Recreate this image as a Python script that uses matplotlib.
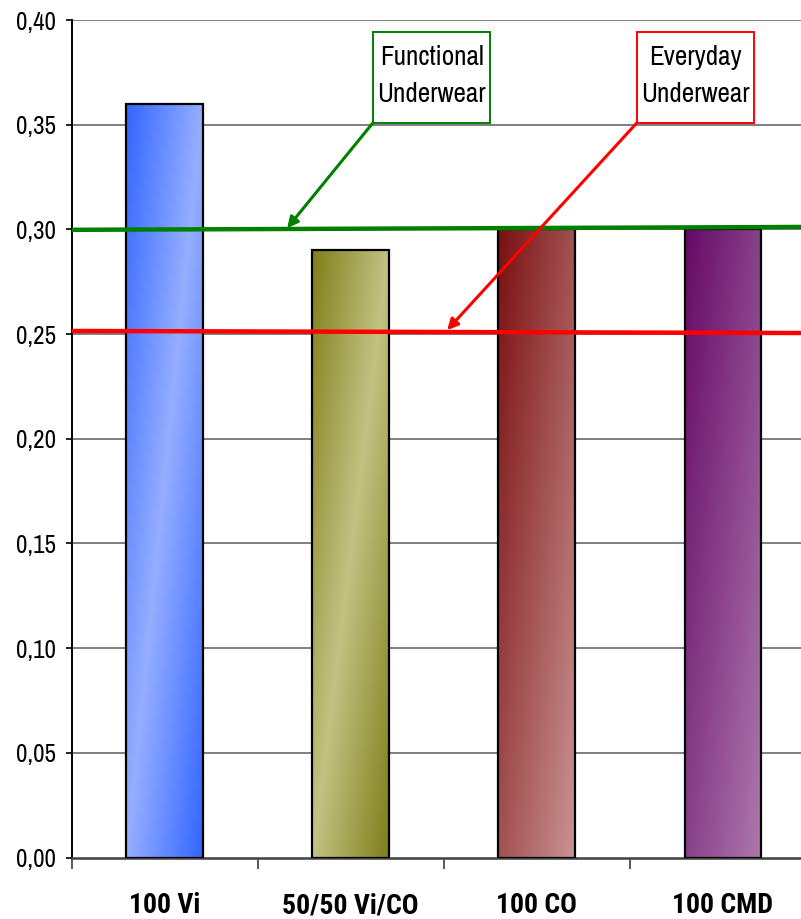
import numpy as np
import matplotlib
matplotlib.use("Agg")
import matplotlib.pyplot as plt
from matplotlib.colors import to_rgb
from matplotlib.patches import Rectangle

NARROW = ['Archivo Narrow', 'Liberation Sans', 'DejaVu Sans']
NARROW_BOLD = ['Roboto Condensed', 'Fira Sans Condensed', 'Liberation Sans', 'DejaVu Sans']
plt.rcParams['font.family'] = NARROW

# Bar data
categories = ["100 Vi", "50/50 Vi/CO", "100 CO", "100 CMD"]
values = [0.36, 0.29, 0.30, 0.30]
# (dark, light) colour pairs and gradient style for each bar
dark_colors = ["#3366ff", "#7f7f1a", "#7a0f10", "#650a66"]
light_colors = ["#95aeff", "#c2c283", "#c99393", "#ad78ad"]
gradient_kind = ["band", "band", "diag", "diag"]

# Reference lines (left end, right end)
functional_level = [0.2998, 0.3012]
everyday_level = [0.2515, 0.2505]

yticks = [0.00, 0.05, 0.10, 0.15, 0.20, 0.25, 0.30, 0.35, 0.40]
ytick_labels = ["0,00", "0,05", "0,10", "0,15", "0,20", "0,25", "0,30", "0,35", "0,40"]


def gradient_image(dark, light, kind, n=200):
    u = np.linspace(0, 1, 60)[None, :]
    v = np.linspace(1, 0, n)[:, None]   # top row first
    if kind == "band":
        t = np.abs(u - v)
    else:
        t = (1 - u + v) / 2
    t = np.clip(t, 0, 1)
    d = np.array(to_rgb(dark))
    l = np.array(to_rgb(light))
    return l + (d - l) * t[..., None]


fig = plt.figure(figsize=(8.01, 9.19), dpi=100)
ax = fig.add_axes([0.0893, 0.0669, 0.929, 0.9113])

x = np.arange(len(categories))
width = 0.41

# gridlines
for yv in yticks[1:]:
    ax.axhline(yv, color="#7f7f7f", lw=1.4, zorder=1)

bars = ax.bar(x, values, width=width, facecolor="none", edgecolor="black",
              linewidth=1.6, zorder=4)
for i, b in enumerate(bars):
    img = gradient_image(dark_colors[i], light_colors[i], gradient_kind[i])
    x0 = b.get_x()
    ax.imshow(img, extent=(x0, x0 + width, 0, values[i]), aspect="auto",
              interpolation="bilinear", zorder=3)

ax.set_xlim(-0.5, 3.5)
ax.set_ylim(0, 0.40)

# limit lines
ax.plot([-0.5, 3.5], functional_level, color="#008000", lw=3.2, zorder=5,
        solid_capstyle="butt")
ax.plot([-0.5, 3.5], everyday_level, color="#ff0000", lw=3.2, zorder=5,
        solid_capstyle="butt")

# callout boxes with arrows
def callout(text, box, target, color):
    x0, x1, y0, y1 = box
    ax.add_patch(Rectangle((x0, y0), x1 - x0, y1 - y0, facecolor="white",
                           edgecolor=color, lw=1.4, zorder=6))
    ax.text((x0 + x1) / 2, (y0 + y1) / 2 + 0.0005, text, ha="center", va="center",
            fontsize=19.5, linespacing=1.6, zorder=7)
    ax.annotate("", xy=target, xytext=(x0, y0), zorder=6,
                arrowprops=dict(arrowstyle="-|>", color=color, lw=2.2,
                                mutation_scale=16, shrinkA=0, shrinkB=0))

callout("Functional\nUnderwear", (1.121, 1.750, 0.3510, 0.3944),
        (0.659, 0.3006), "#008000")
callout("Everyday\nUnderwear", (2.540, 3.169, 0.3510, 0.3944),
        (1.519, 0.2519), "#ff0000")

# axes styling
for side in ("top", "right"):
    ax.spines[side].set_visible(False)
ax.spines["left"].set_color("black")
ax.spines["left"].set_linewidth(1.4)
ax.spines["bottom"].set_color("#404040")
ax.spines["bottom"].set_linewidth(1.8)

ax.set_yticks(yticks)
ax.set_yticklabels(ytick_labels, fontsize=18)
ax.tick_params(axis="y", direction="out", length=4, width=1.2, pad=7)

ax.set_xticks(x)
ax.set_xticklabels(categories, fontsize=20, fontweight="bold", family=NARROW_BOLD)
ax.set_xticks(np.arange(-0.5, 3.6, 1.0), minor=True)
ax.tick_params(axis="x", which="major", length=0, pad=25)
ax.tick_params(axis="x", which="minor", direction="out", length=8, width=1.2,
               color="#404040")

fig.savefig("out.png", dpi=100)
